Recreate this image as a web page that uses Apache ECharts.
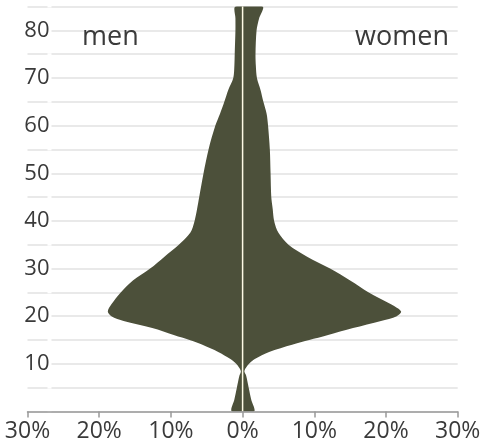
<!DOCTYPE html>
<html>
<head>
<meta charset="utf-8">
<script src="https://cdn.jsdelivr.net/npm/echarts@6/dist/echarts.min.js"></script>
<style>html,body{margin:0;padding:0;background:#fff;}#c{width:485px;height:446px;}</style>
</head>
<body>
<div id="c"></div>
<script>
// Age (years)
var ages = [0, 2.5, 5, 7.5, 8.5, 10, 11, 12.5, 14, 15, 16, 17.5, 19, 20, 21, 22.5, 25, 27.5, 30, 32.5, 35, 37.5, 40, 42.5, 45, 50, 55, 60, 62.5, 65, 67.5, 70, 72.5, 75, 80, 82.5, 85];
// share (%) of men, drawn to the left
var men = [1.5, 1.15, 0.8, 0.45, 0.25, 0.9, 1.7, 3.4, 5.6, 7.4, 9.5, 12.6, 16.6, 18.3, 18.8, 18.3, 17.0, 15.3, 12.9, 10.9, 8.9, 7.3, 6.7, 6.35, 6.05, 5.45, 4.75, 3.8, 3.15, 2.55, 2.0, 1.3, 1.15, 1.1, 1.0, 1.0, 1.0];
// share (%) of women, drawn to the right
var women = [1.6, 1.2, 0.85, 0.5, 0.25, 0.9, 1.7, 3.7, 6.9, 9.3, 11.8, 15.4, 19.3, 21.5, 22.1, 20.7, 17.6, 15.0, 12.2, 9.0, 6.4, 5.0, 4.4, 4.2, 4.0, 3.9, 3.8, 3.55, 3.35, 2.9, 2.5, 2.0, 1.85, 1.8, 1.95, 2.3, 2.8];
var xTicks = [-30, -20, -10, 0, 10, 20, 30];
var yLabelValues = [10, 20, 30, 40, 50, 60, 70, 80];
var groupLabels = ['men', 'women'];

var chart = echarts.init(document.getElementById('c'), null, {renderer: 'canvas'});
var FONT = 'Open Sans';
var TXT = '#3a3a3a';

var option = {
  animation: false,
  grid: {left: 27.5, right: 27.3, top: 6.5, bottom: 34.5, containLabel: false},
  xAxis: {
    type: 'value', min: xTicks[0], max: xTicks[xTicks.length - 1], interval: 10,
    axisLine: {show: true, onZero: false, lineStyle: {color: '#999', width: 1.5}},
    axisTick: {show: true, inside: false, length: 6, lineStyle: {color: '#999', width: 1.5}},
    splitLine: {show: false},
    axisLabel: {
      fontFamily: FONT, fontSize: 23, color: TXT, margin: 8,
      formatter: function (v) { return Math.abs(v) + '%'; }
    },
    z: 5
  },
  yAxis: {
    type: 'value', min: 0, max: 85, interval: 5,
    axisLine: {show: false}, axisTick: {show: false},
    splitLine: {show: true, lineStyle: {color: '#e2e2e2', width: 1.5}},
    axisLabel: {
      fontFamily: FONT, fontSize: 22, color: TXT, margin: -24,
      backgroundColor: '#fff', padding: [0, 2, 2, 2],
      formatter: function (v) { return yLabelValues.indexOf(v) >= 0 ? String(v) : ''; }
    },
    z: 0
  },
  graphic: [
    {type: 'text', left: 82, top: 24, z: 100,
     style: {text: groupLabels[0], font: '27px "Open Sans"', fill: TXT}},
    {type: 'text', right: 36, top: 24, z: 100,
     style: {text: groupLabels[1], font: '27px "Open Sans"', fill: TXT}}
  ],
  series: [
    {
      type: 'custom',
      clip: true,
      data: [[0, 0]],
      renderItem: function (params, api) {
        var pts = [];
        for (var i = 0; i < ages.length; i++) pts.push(api.coord([-men[i], ages[i]]));
        for (var j = ages.length - 1; j >= 0; j--) pts.push(api.coord([women[j], ages[j]]));
        return {
          type: 'polygon',
          shape: {points: pts, smooth: 0.3},
          style: {fill: '#4c503a', stroke: null}
        };
      },
      z: 2
    },
    {
      type: 'line',
      data: [[0, 0], [0, 85]],
      symbol: 'none',
      lineStyle: {color: '#fffbe6', width: 1.5},
      z: 4
    }
  ]
};
chart.setOption(option);
</script>
</body>
</html>
